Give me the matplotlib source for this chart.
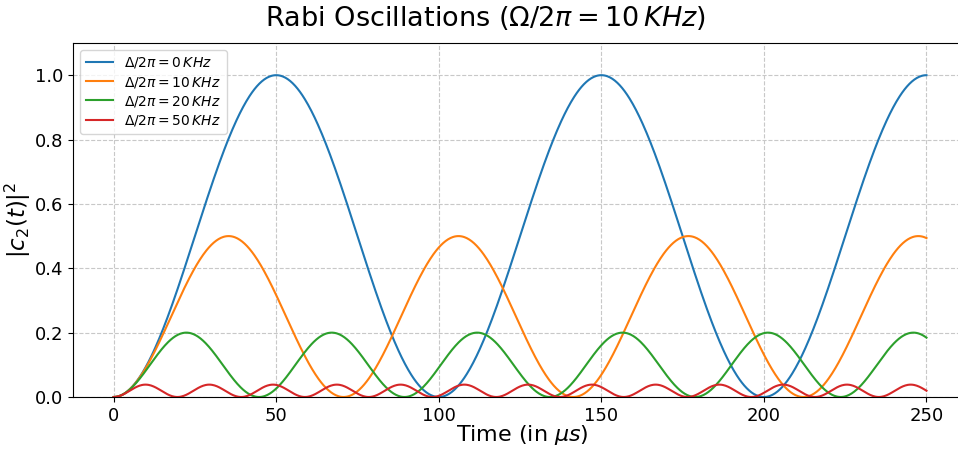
import numpy as np
import matplotlib
matplotlib.use("Agg")
import matplotlib.pyplot as plt

# Rabi frequency and detunings (in KHz, /2pi)
rabi_khz = 10
detunings_khz = [0, 10, 20, 50]
colors = ["#1f77b4", "#ff7f0e", "#2ca02c", "#d62728"]
x_ticks = [0, 50, 100, 150, 200, 250]
y_ticks = [0.0, 0.2, 0.4, 0.6, 0.8, 1.0]

t_us = np.linspace(0, 250, 1000)

fig = plt.figure(figsize=(9.58, 4.49), dpi=100)
ax = fig.add_axes([73 / 958, 1 - 397 / 449, (972 - 73) / 958, (397 - 43) / 449])

omega = 2 * np.pi * rabi_khz * 1e3
for d, c in zip(detunings_khz, colors):
    delta = 2 * np.pi * d * 1e3
    w = np.sqrt(omega**2 + delta**2)
    p = (omega**2 / w**2) * np.sin(w * t_us * 1e-6 / 2) ** 2
    ax.plot(t_us, p, color=c, lw=1.5, label=rf"$\Delta/2\pi = {d}\,KHz$")

ax.set_xlim(-12.5, 264.0)
ax.set_ylim(0, 1.1)
ax.set_xticks(x_ticks)
ax.set_yticks(y_ticks)
ax.tick_params(labelsize=13)
ax.spines["right"].set_visible(False)
ax.grid(True, ls="--", color="#c8c8c8", lw=0.8)
ax.set_xlabel(r"Time (in $\mu s$)", fontsize=16, labelpad=-1)
ax.set_ylabel(r"$|c_2(t)|^2$", fontsize=16.5, labelpad=1)
ax.set_title(r"Rabi Oscillations ($\Omega/2\pi = 10\,KHz$)", fontsize=19.5, pad=12,
             x=(486 - 73) / (972 - 73))
ax.legend(loc="upper left", fontsize=10, labelspacing=0.3)

fig.savefig("out.png", dpi=100)
